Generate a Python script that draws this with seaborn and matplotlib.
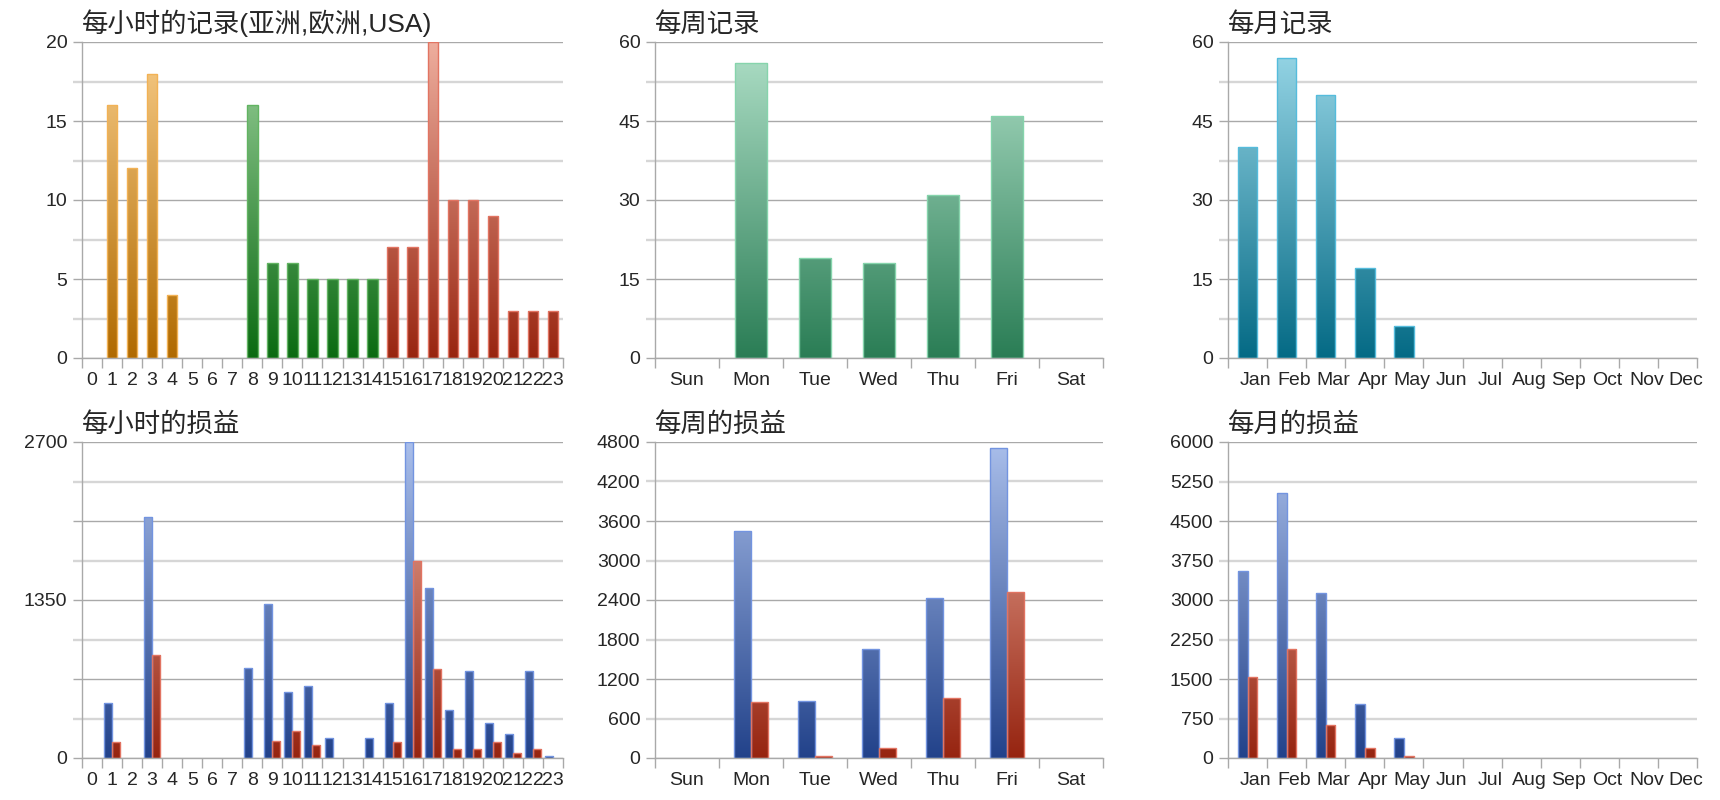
import numpy as np
import pandas as pd
import matplotlib
matplotlib.use("Agg")
import matplotlib.pyplot as plt
import matplotlib.transforms as mtrans
import seaborn as sns
from matplotlib.colors import LinearSegmentedColormap, to_rgb
from matplotlib.ticker import FixedLocator, FuncFormatter

# ---------------- data ----------------
hours = [str(h) for h in range(24)]
hour_records = [0, 16, 12, 18, 4, 0, 0, 0, 16, 6, 6, 5, 5, 5, 5, 7, 7, 20, 10, 10, 9, 3, 3, 3]
hour_region = ["亚洲"] * 8 + ["欧洲"] * 7 + ["USA"] * 9
regions = ["亚洲", "欧洲", "USA"]

hour_profit = [0, 470, 0, 2056, 0, 0, 0, 0, 766, 1318, 564, 612, 171, 0, 171, 470,
               2700, 1450, 413, 746, 302, 208, 741, 14]
hour_loss = [0, 134, 0, 877, 0, 0, 0, 0, 0, 148, 228, 111, 0, 0, 0, 137,
             1683, 763, 80, 80, 137, 40, 80, 0]

days = ["Sun", "Mon", "Tue", "Wed", "Thu", "Fri", "Sat"]
day_records = [0, 56, 19, 18, 31, 46, 0]
day_profit = [0, 3455, 873, 1651, 2428, 4709, 0]
day_loss = [0, 850, 35, 152, 910, 2522, 0]

months = ["Jan", "Feb", "Mar", "Apr", "May", "Jun", "Jul", "Aug", "Sep", "Oct", "Nov", "Dec"]
month_records = [40, 57, 50, 17, 6, 0, 0, 0, 0, 0, 0, 0]
month_profit = [3557, 5026, 3139, 1022, 383, 0, 0, 0, 0, 0, 0, 0]
month_loss = [1532, 2064, 625, 190, 38, 0, 0, 0, 0, 0, 0, 0]

series = ["盈利", "亏损"]

# ---------------- style ----------------
sns.set_style("white")
FAMILY = ["Liberation Sans", "Noto Sans CJK SC", "DejaVu Sans"]
plt.rcParams["font.family"] = FAMILY

DARK = "#a9a9a9"
LIGHT = "#d6d6d6"
TICK_FS = 14
TITLE_FS = 19

# gradient specs: bottom colour (also the seaborn colour), top colour, edge colour
GRAD = {
    "orange": ("#b06a00", "#f8cc88", "#f2b255"),
    "green": ("#0b6a12", "#9cd29c", "#62b462"),
    "red": ("#982510", "#eeae9e", "#e27462"),
    "wgreen": ("#2a7d55", "#b0e0c8", "#86d4ac"),
    "teal": ("#046a85", "#9ad8e8", "#55bcdc"),
    "blue": ("#22428a", "#aabfeb", "#7394e0"),
    "pred": ("#962410", "#f0b2a2", "#e27462"),
}


def key_of(rgb):
    return tuple(round(c, 3) for c in rgb)


def apply_gradient(ax, ymax, specs):
    lookup = {key_of(to_rgb(s[0])): s for s in specs}
    grad = np.linspace(0, 1, 256).reshape(-1, 1)
    for p in list(ax.patches):
        h = p.get_height()
        if not np.isfinite(h) or h <= 0:
            p.set_visible(False)
            continue
        spec = lookup[key_of(p.get_facecolor()[:3])]
        cmap = LinearSegmentedColormap.from_list("g", [spec[0], spec[1]])
        x0 = p.get_x()
        w = p.get_width()
        im = ax.imshow(grad, cmap=cmap, origin="lower", aspect="auto",
                       extent=[x0, x0 + w, 0, ymax], zorder=1.5,
                       interpolation="bilinear")
        im.set_clip_path(p)
        p.set_facecolor("none")
        p.set_edgecolor(spec[2])
        p.set_linewidth(1.0)
        p.set_zorder(2)


def style_axes(ax, n, ymax, major, minor, fmt_major, fmt_minor, title, xoff_px=0):
    ax.set_xlim(-0.5, n - 0.5)
    ax.set_ylim(0, ymax)
    ax.set_xlabel("")
    ax.set_ylabel("")
    ax.yaxis.set_major_locator(FixedLocator(major))
    ax.yaxis.set_minor_locator(FixedLocator(minor))
    ax.yaxis.set_major_formatter(FuncFormatter(fmt_major))
    ax.yaxis.set_minor_formatter(FuncFormatter(fmt_minor))
    ax.xaxis.set_minor_locator(FixedLocator(np.arange(n + 1) - 0.5))
    ax.set_axisbelow(True)
    ax.grid(False)
    ax.grid(True, which="major", axis="y", color=DARK, lw=1.0, zorder=0)
    ax.grid(True, which="minor", axis="y", color=LIGHT, lw=1.7, zorder=0)
    ax.tick_params(axis="y", which="major", length=6.5, width=1.0, color=DARK,
                   labelsize=TICK_FS, pad=4, left=True)
    ax.tick_params(axis="y", which="minor", length=6.5, width=1.7, color=LIGHT,
                   labelsize=TICK_FS, pad=4, left=True)
    ax.tick_params(axis="x", which="major", length=0, labelsize=TICK_FS, pad=10)
    ax.tick_params(axis="x", which="minor", length=7.2, width=1.0, color=DARK,
                   bottom=True)
    for s in ["top", "right"]:
        ax.spines[s].set_visible(False)
    for s in ["left", "bottom"]:
        ax.spines[s].set_color(DARK)
        ax.spines[s].set_linewidth(1.0)
    ax.set_title(title, loc="left", fontsize=TITLE_FS, pad=7, family=FAMILY)
    if xoff_px:
        off = mtrans.ScaledTranslation(xoff_px / 100, 0, ax.figure.dpi_scale_trans)
        for lab in ax.get_xticklabels():
            lab.set_transform(lab.get_transform() + off)


def num(v, pos=None):
    return f"{v:g}"


def blank(v, pos=None):
    return ""


fig = plt.figure(figsize=(17.2, 8.0), dpi=100)
W, H = 1720, 800
cols = [(82, 481), (655, 448), (1228, 469)]
rows = [358, 758]
axes = {}
for r, yb in enumerate(rows):
    for c, (xl, wd) in enumerate(cols):
        axes[(r, c)] = fig.add_axes([xl / W, (H - yb) / H, wd / W, 316 / H])

# ---------- hourly records ----------
ax = axes[(0, 0)]
df = pd.DataFrame({"hour": hours, "value": hour_records, "region": hour_region})
pal = {"亚洲": GRAD["orange"][0], "欧洲": GRAD["green"][0], "USA": GRAD["red"][0]}
sns.barplot(data=df, x="hour", y="value", hue="region", order=hours, hue_order=regions,
            palette=pal, dodge=False, width=0.52, saturation=1, errorbar=None,
            legend=False, ax=ax)
apply_gradient(ax, 20, [GRAD["orange"], GRAD["green"], GRAD["red"]])
style_axes(ax, 24, 20, [0, 5, 10, 15, 20], [2.5, 7.5, 12.5, 17.5], num, blank,
           "每小时的记录(亚洲,欧洲,USA)")

# ---------- weekly records ----------
ax = axes[(0, 1)]
df = pd.DataFrame({"day": days, "value": day_records})
sns.barplot(data=df, x="day", y="value", order=days, color=GRAD["wgreen"][0],
            width=0.51, saturation=1, errorbar=None, ax=ax)
apply_gradient(ax, 60, [GRAD["wgreen"]])
style_axes(ax, 7, 60, [0, 15, 30, 45, 60], [7.5, 22.5, 37.5, 52.5], num, blank, "每周记录")

# ---------- monthly records ----------
ax = axes[(0, 2)]
df = pd.DataFrame({"month": months, "value": month_records})
sns.barplot(data=df, x="month", y="value", order=months, color=GRAD["teal"][0],
            width=0.5, saturation=1, errorbar=None, ax=ax)
apply_gradient(ax, 60, [GRAD["teal"]])
style_axes(ax, 12, 60, [0, 15, 30, 45, 60], [7.5, 22.5, 37.5, 52.5], num, blank,
           "每月记录", xoff_px=8)

pl_pal = {"盈利": GRAD["blue"][0], "亏损": GRAD["pred"][0]}
pl_specs = [GRAD["blue"], GRAD["pred"]]

# ---------- hourly P/L ----------
ax = axes[(1, 0)]
df = pd.DataFrame({"hour": hours * 2, "value": hour_profit + hour_loss,
                   "series": [series[0]] * 24 + [series[1]] * 24})
sns.barplot(data=df, x="hour", y="value", hue="series", order=hours, hue_order=series,
            palette=pl_pal, width=0.8, gap=0, saturation=1, errorbar=None,
            legend=False, ax=ax)
apply_gradient(ax, 2700, pl_specs)
style_axes(ax, 24, 2700, [0, 675, 1350, 2025, 2700], [337.5, 1012.5, 1687.5, 2362.5],
           lambda v, p=None: f"{v:g}" if abs(v % 1350) < 1e-6 else "", blank, "每小时的损益")

# ---------- weekly P/L ----------
ax = axes[(1, 1)]
df = pd.DataFrame({"day": days * 2, "value": day_profit + day_loss,
                   "series": [series[0]] * 7 + [series[1]] * 7})
sns.barplot(data=df, x="day", y="value", hue="series", order=days, hue_order=series,
            palette=pl_pal, width=0.52, gap=0, saturation=1, errorbar=None,
            legend=False, ax=ax)
apply_gradient(ax, 4800, pl_specs)
style_axes(ax, 7, 4800, [0, 1200, 2400, 3600, 4800], [600, 1800, 3000, 4200], num, num,
           "每周的损益")

# ---------- monthly P/L ----------
ax = axes[(1, 2)]
df = pd.DataFrame({"month": months * 2, "value": month_profit + month_loss,
                   "series": [series[0]] * 12 + [series[1]] * 12})
sns.barplot(data=df, x="month", y="value", hue="series", order=months, hue_order=series,
            palette=pl_pal, width=0.5, gap=0, saturation=1, errorbar=None,
            legend=False, ax=ax)
apply_gradient(ax, 6000, pl_specs)
style_axes(ax, 12, 6000, [0, 1500, 3000, 4500, 6000], [750, 2250, 3750, 5250], num, num,
           "每月的损益", xoff_px=8)

fig.savefig("out.png", dpi=100, facecolor="white")
